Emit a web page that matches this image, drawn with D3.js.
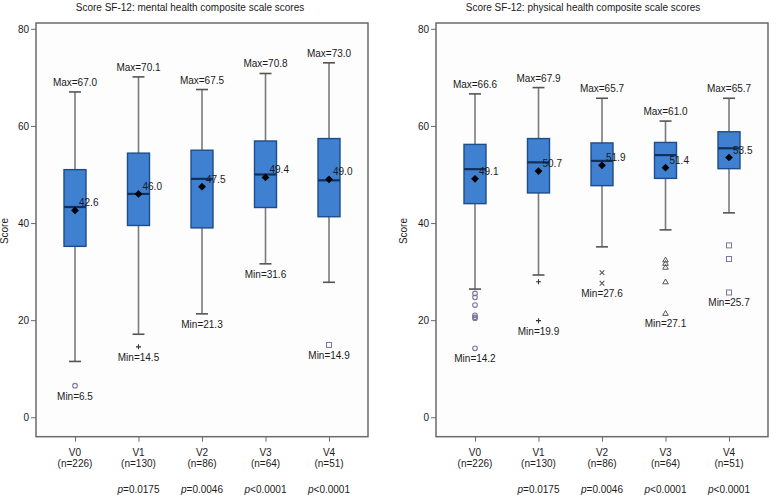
<!DOCTYPE html>
<html>
<head>
<meta charset="utf-8">
<script src="https://cdn.jsdelivr.net/npm/d3@7/dist/d3.min.js"></script>
<style>
  html, body { margin: 0; padding: 0; background: #ffffff; }
  svg { display: block; font-family: "Liberation Sans", Arial, sans-serif; }
</style>
</head>
<body>
<svg id="chart" width="781" height="495"></svg>
<script>
// ---------- DATA ----------
const categories = ["V0", "V1", "V2", "V3", "V4"];
const nLabels = ["(n=226)", "(n=130)", "(n=86)", "(n=64)", "(n=51)"];
const pLabels = ["", "=0.0175", "=0.0046", "<0.0001", "<0.0001"];
const yTicks = [0, 20, 40, 60, 80];
const outlierShapes = ["circle", "plus", "cross", "triangle", "square"];

// Mental health composite
const mentalTitle = "Score SF-12: mental health composite scale scores";
const mentalQ1 = [35.2, 39.5, 39.0, 43.2, 41.3];
const mentalMedian = [43.3, 46.0, 49.1, 50.0, 48.8];
const mentalQ3 = [51.0, 54.4, 55.0, 56.9, 57.4];
const mentalWhiskerLow = [11.5, 17.1, 21.3, 31.6, 27.8];
const mentalWhiskerHigh = [67.0, 70.1, 67.5, 70.8, 73.0];
const mentalMean = [42.6, 46.0, 47.5, 49.4, 49.0];
const mentalOutliers = [[6.5], [14.5], [], [], [14.9]];
const mentalMaxLabel = ["67.0", "70.1", "67.5", "70.8", "73.0"];
const mentalMinLabel = ["6.5", "14.5", "21.3", "31.6", "14.9"];

// Physical health composite
const physicalTitle = "Score SF-12: physical health composite scale scores";
const physicalQ1 = [44.0, 46.2, 47.7, 49.2, 51.2];
const physicalMedian = [51.1, 52.5, 52.8, 54.0, 55.4];
const physicalQ3 = [56.2, 57.4, 56.5, 56.6, 58.8];
const physicalWhiskerLow = [26.4, 29.3, 35.1, 38.6, 42.1];
const physicalWhiskerHigh = [66.6, 67.9, 65.7, 61.0, 65.7];
const physicalMean = [49.1, 50.7, 51.9, 51.4, 53.5];
const physicalOutliers = [
  [25.5, 24.7, 23.1, 21.0, 20.6, 20.4, 14.2],
  [27.9, 19.9],
  [29.8, 27.6],
  [32.4, 31.7, 30.9, 27.9, 21.4],
  [35.4, 32.6, 25.7]
];
const physicalMaxLabel = ["66.6", "67.9", "65.7", "61.0", "65.7"];
const physicalMinLabel = ["14.2", "19.9", "27.6", "27.1", "25.7"];

// ---------- DRAW ----------
const svg = d3.select("#chart");
const boxFill = "#3f80d1";
const boxEdge = "#1d4c8a";
const medianColor = "#11305e";
const whiskerColor = "#7a7a7a";
const frameColor = "#6a6a6a";
const textColor = "#1a1a1a";
const outlierColor = "#7a76a0";

function drawPanel(cfg) {
  const { left, right, top, bottom, title, titleX, labelX } = cfg;
  const g = svg.append("g");

  const y = d3.scaleLinear().domain([-4, 81.2]).range([bottom, top]);
  const x = d3.scalePoint().domain(categories).range([left, right]).padding(0.614);

  // plot background + frame
  g.append("rect")
    .attr("x", left).attr("y", top)
    .attr("width", right - left).attr("height", bottom - top)
    .attr("fill", "#fdfdfd").attr("stroke", frameColor).attr("stroke-width", 1.5);

  // title
  g.append("text").attr("x", titleX).attr("y", 11)
    .attr("text-anchor", "middle").attr("font-size", 10).attr("fill", textColor)
    .text(title);

  // y axis
  const yAxis = g.append("g").attr("transform", `translate(${left},0)`)
    .call(d3.axisLeft(y).tickValues(yTicks).tickSize(5).tickPadding(2));
  yAxis.select(".domain").remove();
  yAxis.selectAll("line").attr("stroke", frameColor);
  yAxis.selectAll("text").attr("font-size", 10).attr("fill", textColor)
    .attr("font-family", "Liberation Sans, Arial, sans-serif");

  // y label
  g.append("text")
    .attr("transform", `translate(${labelX},${y(40) + 8}) rotate(-90)`)
    .attr("text-anchor", "middle").attr("font-size", 10).attr("fill", textColor)
    .text("Score");

  // x axis
  const xAxis = g.append("g").attr("transform", `translate(0,${bottom})`)
    .call(d3.axisBottom(x).tickSize(5).tickFormat(""));
  xAxis.select(".domain").remove();
  xAxis.selectAll("line").attr("stroke", frameColor);

  categories.forEach((c, i) => {
    const cx = x(c);
    g.append("text").attr("x", cx).attr("y", bottom + 19)
      .attr("text-anchor", "middle").attr("font-size", 10).attr("fill", textColor).text(c);
    g.append("text").attr("x", cx).attr("y", bottom + 30)
      .attr("text-anchor", "middle").attr("font-size", 10).attr("fill", textColor).text(nLabels[i]);
    if (pLabels[i]) {
      const t = g.append("text").attr("x", cx).attr("y", bottom + 56)
        .attr("text-anchor", "middle").attr("font-size", 10).attr("fill", textColor);
      t.append("tspan").attr("font-style", "italic").text("p");
      t.append("tspan").text(pLabels[i]);
    }
  });

  const bw = 22, capW = 12;
  categories.forEach((c, i) => {
    const cx = x(c);
    // whiskers
    g.append("line").attr("x1", cx).attr("x2", cx)
      .attr("y1", y(cfg.whiskerHigh[i])).attr("y2", y(cfg.q3[i]))
      .attr("stroke", whiskerColor).attr("stroke-width", 1.6);
    g.append("line").attr("x1", cx).attr("x2", cx)
      .attr("y1", y(cfg.q1[i])).attr("y2", y(cfg.whiskerLow[i]))
      .attr("stroke", whiskerColor).attr("stroke-width", 1.6);
    [cfg.whiskerHigh[i], cfg.whiskerLow[i]].forEach(v => {
      g.append("line").attr("x1", cx - capW / 2).attr("x2", cx + capW / 2)
        .attr("y1", y(v)).attr("y2", y(v))
        .attr("stroke", "#555").attr("stroke-width", 1.6);
    });
    // box
    g.append("rect").attr("x", cx - bw / 2).attr("y", y(cfg.q3[i]))
      .attr("width", bw).attr("height", y(cfg.q1[i]) - y(cfg.q3[i]))
      .attr("fill", boxFill).attr("stroke", boxEdge).attr("stroke-width", 1.4);
    // median
    g.append("line").attr("x1", cx - bw / 2).attr("x2", cx + bw / 2)
      .attr("y1", y(cfg.median[i])).attr("y2", y(cfg.median[i]))
      .attr("stroke", medianColor).attr("stroke-width", 2.2);
    // mean diamond
    g.append("path")
      .attr("d", d3.symbol().type(d3.symbolDiamond2).size(38)())
      .attr("transform", `translate(${cx},${y(cfg.mean[i])})`)
      .attr("fill", "#000");
    g.append("text").attr("x", cx + 4).attr("y", y(cfg.mean[i]) - 4)
      .attr("font-size", 10).attr("fill", textColor).text(cfg.mean[i].toFixed(1));

    // outliers
    const shape = outlierShapes[i];
    cfg.outliers[i].forEach(v => {
      const py = y(v);
      if (shape === "circle") {
        g.append("circle").attr("cx", cx).attr("cy", py).attr("r", 2.3)
          .attr("fill", "none").attr("stroke", outlierColor).attr("stroke-width", 1.1);
      } else if (shape === "square") {
        g.append("rect").attr("x", cx - 2.5).attr("y", py - 2.5).attr("width", 5).attr("height", 5)
          .attr("fill", "none").attr("stroke", outlierColor).attr("stroke-width", 1);
      } else if (shape === "plus") {
        g.append("path").attr("d", `M${cx - 2.5},${py}H${cx + 2.5}M${cx},${py - 2.5}V${py + 2.5}`)
          .attr("stroke", "#333").attr("stroke-width", 1.1);
      } else if (shape === "cross") {
        g.append("path").attr("d", `M${cx - 2.3},${py - 2.3}L${cx + 2.3},${py + 2.3}M${cx - 2.3},${py + 2.3}L${cx + 2.3},${py - 2.3}`)
          .attr("stroke", "#555").attr("stroke-width", 1.1);
      } else if (shape === "triangle") {
        g.append("path").attr("d", `M${cx},${py - 2.8}L${cx + 2.8},${py + 2}L${cx - 2.8},${py + 2}Z`)
          .attr("fill", "none").attr("stroke", "#555").attr("stroke-width", 1);
      }
    });

    // max / min labels
    g.append("text").attr("x", cx).attr("y", y(cfg.whiskerHigh[i]) - 6)
      .attr("text-anchor", "middle").attr("font-size", 10).attr("fill", textColor)
      .text("Max=" + cfg.maxLabel[i]);
    const lowest = d3.min([cfg.whiskerLow[i], ...cfg.outliers[i]]);
    g.append("text").attr("x", cx).attr("y", y(lowest) + 14)
      .attr("text-anchor", "middle").attr("font-size", 10).attr("fill", textColor)
      .text("Min=" + cfg.minLabel[i]);
  });
}

drawPanel({
  left: 36, right: 368, top: 23, bottom: 436.7,
  title: mentalTitle, titleX: 190, labelX: 8,
  q1: mentalQ1, median: mentalMedian, q3: mentalQ3,
  whiskerLow: mentalWhiskerLow, whiskerHigh: mentalWhiskerHigh,
  mean: mentalMean, outliers: mentalOutliers,
  maxLabel: mentalMaxLabel, minLabel: mentalMinLabel
});

drawPanel({
  left: 436, right: 768, top: 23, bottom: 436.7,
  title: physicalTitle, titleX: 583, labelX: 407,
  q1: physicalQ1, median: physicalMedian, q3: physicalQ3,
  whiskerLow: physicalWhiskerLow, whiskerHigh: physicalWhiskerHigh,
  mean: physicalMean, outliers: physicalOutliers,
  maxLabel: physicalMaxLabel, minLabel: physicalMinLabel
});
</script>
</body>
</html>
